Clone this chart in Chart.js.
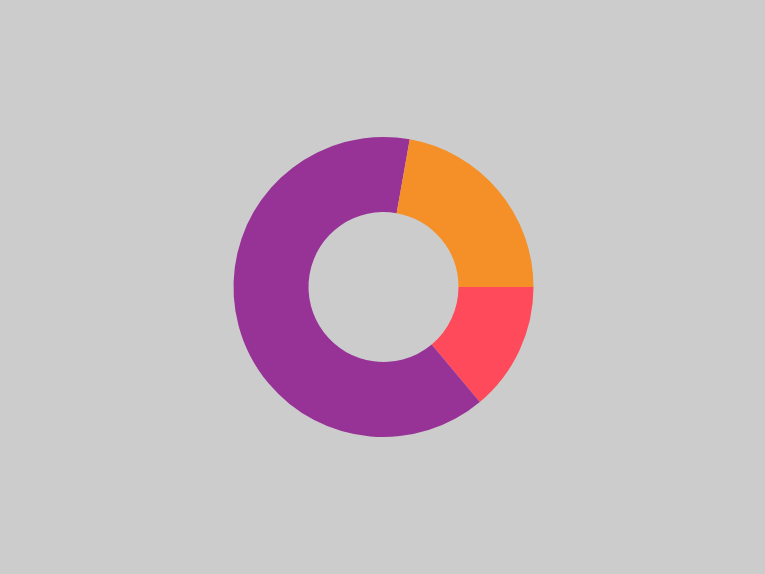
<!DOCTYPE html>
<html>
<head>
<meta charset="utf-8">
<script src="https://cdn.jsdelivr.net/npm/chart.js@4"></script>
<style>
  html, body { margin:0; padding:0; background:#cccccc; }
  #wrap { width:765px; height:574px; }
</style>
</head>
<body>
<div id="wrap"><canvas id="c"></canvas></div>
<script>
// slices, drawn clockwise starting from 3 o'clock
const labels = ['Red', 'Purple', 'Orange'];
const values = [13.9, 63.9, 22.2];
const colors = ['#fe4a5a', '#973396', '#f58f27'];

new Chart(document.getElementById('c').getContext('2d'), {
  type: 'doughnut',
  data: {
    labels: labels,
    datasets: [{data: values, backgroundColor: colors, borderWidth: 0}]
  },
  options: {
    responsive: true, maintainAspectRatio: false, animation: false,
    rotation: 90, cutout: '50%',
    layout: {padding: {left: 138, right: 136, top: 137, bottom: 137}},
    plugins: {legend: {display: false}, tooltip: {enabled: false}}
  }
});
</script>
</body>
</html>
